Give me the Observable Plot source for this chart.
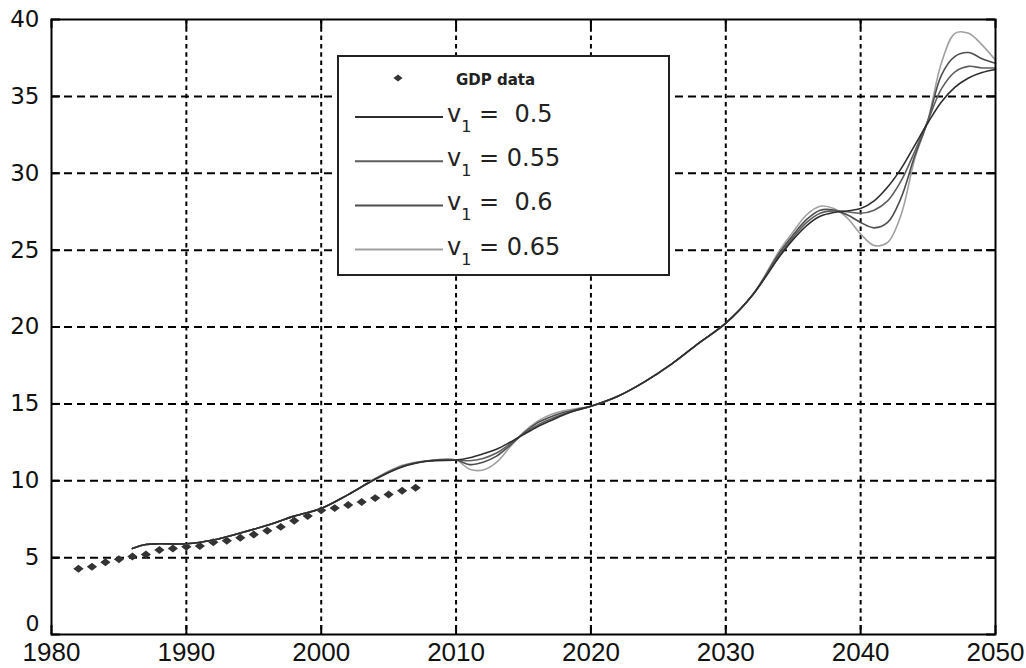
<!DOCTYPE html>
<html><head><meta charset="utf-8">
<script src="https://cdn.jsdelivr.net/npm/d3@7"></script>
<script src="https://cdn.jsdelivr.net/npm/@observablehq/plot@0.6"></script>
<style>
html,body{margin:0;padding:0;background:#fff;}
#wrap{position:relative;width:1026px;height:668px;overflow:hidden;}
#legend{position:absolute;left:0;top:0;}
</style></head><body><div id="wrap"></div>
<script>
// ---- data ----
const gdpYears = [1982,1983,1984,1985,1986,1987,1988,1989,1990,1991,1992,1993,1994,1995,1996,1997,1998,1999,2000,2001,2002,2003,2004,2005,2006,2007];
const gdpValues = [4.27,4.4,4.7,4.9,5.07,5.2,5.5,5.6,5.7,5.75,6.0,6.1,6.3,6.5,6.75,7.0,7.4,7.7,8.08,8.22,8.42,8.62,8.87,9.1,9.35,9.55];

const modelYears = [1986,1987,1988,1990,1992,1994,1996,1998,2000,2002,2004,2006,2008,2010,
  2011,2012,2013,2014,2015,2016,2017,2018,2019,2020,2022,2024,2026,2028,2030,2032,2034,
  2035,2036,2037,2038,2039,2040,2041,2042,2043,2044,2045,2046,2047,2048,2049,2050];

const v050 = [5.6,5.85,5.9,5.9,6.15,6.6,7.1,7.7,8.2,9.1,10.1,10.9,11.28,11.35,
  11.5,11.75,12.05,12.5,13.0,13.5,13.9,14.3,14.6,14.85,15.5,16.45,17.6,18.95,20.25,22.1,24.6,
  25.7,26.6,27.2,27.45,27.55,27.7,28.2,29.1,30.3,31.8,33.3,34.65,35.6,36.2,36.55,36.75];
const v055 = [5.6,5.85,5.9,5.9,6.15,6.6,7.1,7.7,8.2,9.1,10.1,10.92,11.3,11.35,
  11.3,11.45,11.8,12.4,13.05,13.6,14.0,14.35,14.6,14.85,15.5,16.45,17.6,18.95,20.25,22.1,24.7,
  25.85,26.8,27.4,27.55,27.5,27.4,27.6,28.2,29.5,31.4,33.45,35.5,36.6,36.95,36.85,36.85];
const v060 = [5.6,5.85,5.9,5.9,6.15,6.6,7.1,7.7,8.2,9.1,10.12,10.95,11.3,11.35,
  11.05,11.2,11.6,12.3,13.1,13.75,14.15,14.45,14.65,14.85,15.5,16.45,17.6,18.95,20.25,22.1,24.85,
  26.0,27.0,27.6,27.6,27.3,26.8,26.45,26.8,28.4,31.1,33.45,36.4,37.6,37.85,37.45,37.15];
const v065 = [5.6,5.85,5.9,5.9,6.15,6.6,7.1,7.7,8.2,9.1,10.15,11.0,11.32,11.35,
  10.75,10.7,11.2,12.2,13.15,13.85,14.3,14.55,14.7,14.85,15.5,16.45,17.6,18.95,20.25,22.1,25.0,
  26.2,27.3,27.85,27.7,27.1,26.05,25.3,25.5,27.3,30.9,33.5,37.2,39.1,39.1,38.35,37.35];

const seriesLabels = ["0.5","0.55","0.6","0.65"];
const seriesValues = [v050, v055, v060, v065];
const seriesColors = ["#2e2e2e","#5e5e5e","#4e4e4e","#a0a0a0"];
const legendDataLabel = "GDP data";

const xTicks = [1980,1990,2000,2010,2020,2030,2040,2050];
const yTicks = [0,5,10,15,20,25,30,35,40];

// ---- tables ----
const gdp = gdpYears.map((y,i)=>({year:y, value:gdpValues[i]}));
const rows = [];
seriesLabels.forEach((lab,i)=>modelYears.forEach((yr,j)=>rows.push({year:yr, value:seriesValues[i][j], series:lab})));

const flatDiamond = {
  draw(ctx, size){
    const k = Math.sqrt(size/Math.PI);
    const hw = k*1.35, hh = k*1.05;
    ctx.moveTo(0,-hh); ctx.lineTo(hw,0); ctx.lineTo(0,hh); ctx.lineTo(-hw,0); ctx.closePath();
  }
};

const W=1026, H=668, mL=51, mR=31, mT=19, mB=34;
const innerW = W-mL-mR, innerH = H-mT-mB, tickLen = 9;
const gridStyle = {stroke:"#000", strokeOpacity:1, strokeWidth:2};

const chart = Plot.plot({
  width:W, height:H,
  marginLeft:mL, marginRight:mR, marginTop:mT, marginBottom:mB,
  x:{domain:[1980,2050]},
  y:{domain:[0,40]},
  style:{background:"#fff", fontFamily:"'DejaVu Sans', sans-serif"},
  marks:[
    Plot.gridX(xTicks.slice(1,-1), {...gridStyle, strokeDasharray:"4.5,3.8"}),
    Plot.gridY(yTicks.slice(1,-1), {...gridStyle, strokeDasharray:"8,5"}),
    Plot.tickY(yTicks, {y:d=>d, stroke:"#000", strokeWidth:2, insetRight:innerW-tickLen}),
    Plot.tickY(yTicks, {y:d=>d, stroke:"#000", strokeWidth:2, insetLeft:innerW-tickLen}),
    Plot.tickX(xTicks, {x:d=>d, stroke:"#000", strokeWidth:2, insetTop:innerH-tickLen}),
    Plot.tickX(xTicks, {x:d=>d, stroke:"#000", strokeWidth:2, insetBottom:innerH-tickLen}),
    Plot.dot(gdp, {x:"year", y:"value", symbol:flatDiamond, r:3.8, fill:"#333", stroke:"none"}),
    ...seriesLabels.map((lab,i)=>i).reverse().map(i=>
      Plot.line(rows.filter(d=>d.series===seriesLabels[i]), {x:"year", y:"value", stroke:seriesColors[i], strokeWidth:1.6, curve:"catmull-rom"})),
    Plot.frame({stroke:"#000", strokeWidth:2}),
    Plot.axisY(yTicks.slice(1), {tickSize:0, tickPadding:12, fontSize:23, fill:"#111", label:null}),
    Plot.axisY([0], {tickSize:0, tickPadding:12, fontSize:22, fill:"#111", dy:-11, label:null}),
    Plot.axisX(xTicks, {tickSize:0, tickPadding:8, fontSize:26, fill:"#111", tickFormat:"d", fontFamily:"'Liberation Sans',Arial,sans-serif", label:null})
  ]
});
document.getElementById("wrap").appendChild(chart);

// ---- legend (inside plot area) ----
const lg = d3.select("#wrap").append("svg").attr("id","legend").attr("width",W).attr("height",H);
lg.append("rect").attr("x",338).attr("y",56).attr("width",331).attr("height",219)
  .attr("fill","#fff").attr("stroke","#222").attr("stroke-width",2);
const dsz = 3.8*3.8*Math.PI;
lg.append("path").attr("transform","translate(398,78)").attr("fill","#333")
  .attr("d", d3.symbol(flatDiamond, dsz*0.8)());
lg.append("text").attr("x",456).attr("y",85).attr("font-family","'DejaVu Sans',sans-serif")
  .attr("font-weight","bold").attr("font-size",15).attr("fill","#222").text(legendDataLabel);
seriesLabels.forEach((lab,i)=>{
  const yy = 117 + i*44.2;
  lg.append("line").attr("x1",355).attr("x2",443).attr("y1",yy).attr("y2",yy)
    .attr("stroke",seriesColors[i]).attr("stroke-width",2);
  const t = lg.append("text").attr("x",447).attr("y",yy+5).attr("font-family","'DejaVu Sans',sans-serif")
    .attr("font-size",24).attr("fill","#222").attr("xml:space","preserve").style("white-space","pre");
  t.append("tspan").text("v");
  t.append("tspan").attr("dy",10).attr("font-size",16).text("1");
  t.append("tspan").attr("dy",-10).text(lab.length===3 ? " =  "+lab : " = "+lab);
});
</script></body></html>
